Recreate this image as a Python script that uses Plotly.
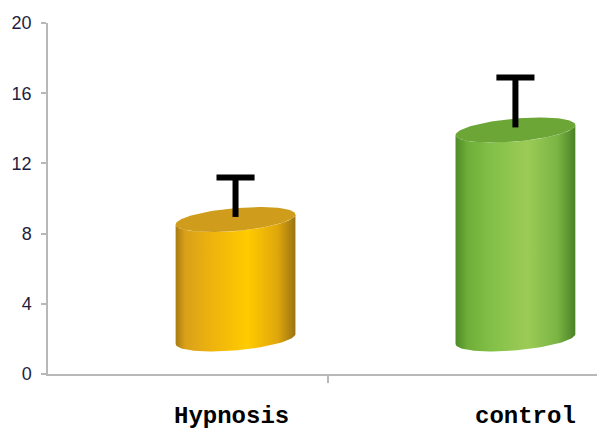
import numpy as np
import plotly.graph_objects as go

# ---- data ----
categories = ["Hypnosis", "control"]
means = [8.8, 13.9]
errors = [2.4, 3.0]
y_ticks = [0, 4, 8, 12, 16, 20]

# ---- style ----
side_scales = [
    [[0.0, "#a87c12"], [0.08, "#d9a01a"], [0.3, "#eeb30e"], [0.6, "#ffcb00"],
     [0.85, "#e0a70c"], [1.0, "#9a7412"]],
    [[0.0, "#4f8a28"], [0.1, "#6fae38"], [0.3, "#83c048"], [0.6, "#9ccb56"],
     [0.85, "#7ab544"], [1.0, "#4a8226"]],
]
top_colors = ["#d09c1c", "#6ca637"]
base_level = 2.0          # visual floor of the 3-D cylinders
x_offset = 0.17           # 3-D perspective shift of each cylinder
half_w = 0.214            # cylinder half width (category units)
ell_b = 0.655             # ellipse half height (y units)
ell_s = 0.285             # ellipse tilt (y units)
cap_half = 0.068          # error-bar cap half width (category units)
label_shift = [-4, 10]

fig = go.Figure()

def ellipse(cx, cy, t):
    return cx + half_w * np.cos(t), cy + ell_b * np.sin(t) + ell_s * np.cos(t)

for i, (cat, m, e) in enumerate(zip(categories, means, errors)):
    cx = i + x_offset
    t_top = np.linspace(0, -np.pi, 60)
    xt, yt = ellipse(cx, m, t_top)
    t_bot = np.linspace(-np.pi, 0, 60)
    xb, yb = ellipse(cx, base_level, t_bot)
    xs = np.concatenate([xt, xb, [xt[0]]])
    ys = np.concatenate([yt, yb, [yt[0]]])
    fig.add_trace(go.Scatter(
        x=xs, y=ys, mode="lines", fill="toself",
        line=dict(width=0, color="rgba(0,0,0,0)"),
        fillgradient=dict(type="horizontal", colorscale=side_scales[i]),
        hoverinfo="skip", showlegend=False))
    t_full = np.linspace(0, 2 * np.pi, 120)
    xe, ye = ellipse(cx, m, t_full)
    fig.add_trace(go.Scatter(
        x=xe, y=ye, mode="lines", fill="toself",
        line=dict(width=0, color="rgba(0,0,0,0)"),
        fillcolor=top_colors[i], hoverinfo="skip", showlegend=False))
    # error bar (upper only, T shape)
    fig.add_trace(go.Scatter(
        x=[cx, cx, None, cx - cap_half, cx + cap_half],
        y=[m + 0.15, m + e, None, m + e, m + e],
        mode="lines", line=dict(color="black", width=6),
        hoverinfo="skip", showlegend=False))

for i, cat in enumerate(categories):
    fig.add_annotation(
        x=i + x_offset, y=-0.122, xref="x", yref="paper",
        text=cat, showarrow=False, xshift=label_shift[i],
        yanchor="middle", xanchor="center",
        font=dict(family="Liberation Mono", size=24, color="black", weight="bold"))

fig.update_layout(
    width=597, height=424,
    margin=dict(l=40, r=0, t=15, b=58, autoexpand=False),
    paper_bgcolor="white", plot_bgcolor="white",
    showlegend=False,
    xaxis=dict(range=[-0.5, 1.49], showgrid=False, zeroline=False,
               showline=True, linecolor="#b8b8b8", linewidth=1.5,
               tickvals=[0.5], ticktext=[""], ticks="outside",
               ticklen=7, tickcolor="#b8b8b8", tickwidth=1.5,
               automargin=False),
    yaxis=dict(range=[0, 20], showgrid=False, zeroline=False,
               showline=True, linecolor="#b8b8b8", linewidth=1.5,
               tickvals=y_ticks, ticks="outside", ticklen=5,
               tickcolor="#b8b8b8", tickwidth=1.5,
               tickfont=dict(family="Liberation Sans", size=18, color="#1e1e40"),
               ticklabelstandoff=6, automargin=False),
)

fig.write_html("out.html")
